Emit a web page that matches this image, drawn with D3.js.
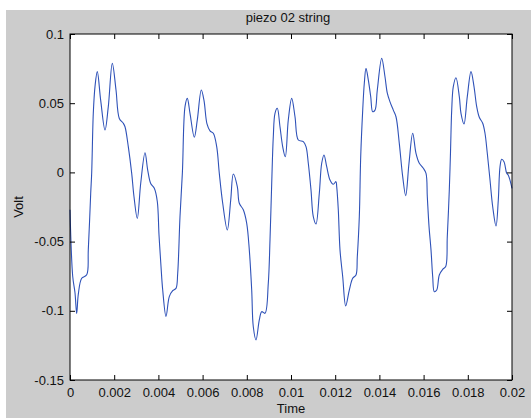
<!DOCTYPE html>
<html>
<head>
<meta charset="utf-8">
<script src="https://cdn.jsdelivr.net/npm/d3@7"></script>
<style>
  body { margin: 0; background: #fff; }
  text { font-family: "Liberation Sans", Arial, sans-serif; fill: #111; }
</style>
</head>
<body>
<svg id="chart"></svg>
<script>
// signal (time in s, voltage in V)
const time = [0, 0.000122, 0.000226, 0.000303, 0.000376, 0.000529, 0.000756, 0.000828, 0.000937, 0.000982,
  0.001054, 0.001131, 0.001235, 0.001389, 0.001584, 0.001733, 0.001914, 0.002082, 0.002231, 0.002412,
  0.002489, 0.002638, 0.002792, 0.002896, 0.003045, 0.003199, 0.003394, 0.003516, 0.003652, 0.003815,
  0.003950, 0.004027, 0.004118, 0.004195, 0.004344, 0.004493, 0.004647, 0.004796, 0.004873, 0.004977,
  0.005086, 0.005204, 0.005308, 0.005430, 0.005625, 0.005760, 0.005941, 0.006063, 0.006199, 0.006335,
  0.006484, 0.006638, 0.006756, 0.006910, 0.007118, 0.007272, 0.007390, 0.007571, 0.007661, 0.007842,
  0.007996, 0.008113, 0.008222, 0.008294, 0.008417, 0.008566, 0.008675, 0.008824, 0.008973, 0.009050,
  0.009127, 0.009199, 0.009276, 0.009380, 0.009502, 0.009624, 0.009742, 0.009878, 0.010032, 0.010181,
  0.010331, 0.010557, 0.010679, 0.010783, 0.010905, 0.011009, 0.011131, 0.011281, 0.011389, 0.011493,
  0.011616, 0.011765, 0.011914, 0.012036, 0.012068, 0.012140, 0.012217, 0.012340, 0.012475, 0.012638,
  0.012792, 0.012941, 0.013000, 0.013091, 0.013154, 0.013245, 0.013317, 0.013394, 0.013498, 0.013607,
  0.013697, 0.013801, 0.013905, 0.014104, 0.014253, 0.014358, 0.014480, 0.014629, 0.014751, 0.014900,
  0.015054, 0.015190, 0.015339, 0.015507, 0.015656, 0.015806, 0.015987, 0.016109, 0.016168, 0.016245,
  0.016335, 0.016412, 0.016484, 0.016593, 0.016711, 0.016865, 0.017000, 0.017072, 0.017163, 0.017218,
  0.017272, 0.017344, 0.017466, 0.017616, 0.017692, 0.017828, 0.017977, 0.018145, 0.018281, 0.018403,
  0.018520, 0.018674, 0.018778, 0.018882, 0.019005, 0.019127, 0.019276, 0.019380, 0.019457, 0.019534,
  0.019638, 0.019760, 0.019832, 0.02];
const volt = [-0.027, -0.075, -0.087, -0.102, -0.088, -0.0765, -0.074, -0.056, -0.015, 0.0,
  0.0427, 0.062, 0.0728, 0.052, 0.0306, 0.0475, 0.0788, 0.0595, 0.039, 0.0355,
  0.033, 0.0186, -0.0007, -0.0176, -0.0332, -0.008, 0.0142, 0.0017, -0.008, -0.0115,
  -0.021, -0.045, -0.068, -0.085, -0.104, -0.0898, -0.0855, -0.0838, -0.073, -0.032,
  0.0, 0.0475, 0.0535, 0.0427, 0.0254, 0.0379, 0.0595, 0.052, 0.035, 0.030,
  0.0283, 0.0186, -0.0007, -0.0223, -0.0416, -0.02, -0.0012, -0.0103, -0.0223, -0.027,
  -0.0368, -0.056, -0.085, -0.1115, -0.121, -0.1066, -0.1006, -0.1018, -0.080, -0.0488,
  -0.008, 0.0258, 0.0427, 0.0463, 0.033, 0.0186, 0.0113, 0.038, 0.0535, 0.0402,
  0.0234, 0.0222, 0.0186, 0.0066, -0.0127, -0.032, -0.0373, -0.0151, 0.0066, 0.0126,
  0.0041, -0.0055, -0.0086, -0.0067, -0.0103, -0.027, -0.056, -0.0754, -0.0965, -0.085,
  -0.0765, -0.0741, -0.061, -0.032, 0.0113, 0.045, 0.0644, 0.0752, 0.0668, 0.0547,
  0.0439, 0.045, 0.0595, 0.0824, 0.0691, 0.0572, 0.051, 0.045, 0.0402, 0.021,
  -0.0031, -0.0168, 0.0066, 0.0283, 0.0138, 0.0066, 0.003, -0.0007, -0.0176, -0.039,
  -0.056, -0.0754, -0.0862, -0.085, -0.0741, -0.07, -0.068, -0.0465, -0.0127, 0.015,
  0.045, 0.062, 0.0684, 0.0547, 0.0427, 0.035, 0.0547, 0.0728, 0.062, 0.0475,
  0.0398, 0.0355, 0.0283, 0.0138, -0.0055, -0.0248, -0.0387, -0.02, 0.0041, 0.0095,
  0.0077, -0.0007, -0.002, -0.0115];

const xTicks = [0, 0.002, 0.004, 0.006, 0.008, 0.01, 0.012, 0.014, 0.016, 0.018, 0.02];
const xTickLabels = ['0', '0.002', '0.004', '0.006', '0.008', '0.01', '0.012', '0.014', '0.016', '0.018', '0.02'];
const yTicks = [-0.15, -0.1, -0.05, 0, 0.05, 0.1];
const yTickLabels = ['-0.15', '-0.1', '-0.05', '0', '0.05', '0.1'];

const W = 531, H = 418;
const plotL = 70, plotR = 512, plotT = 34, plotB = 380;

const svg = d3.select('#chart').attr('width', W).attr('height', H);

// grey figure background
svg.append('rect').attr('x', 6).attr('y', 10).attr('width', W - 6).attr('height', H - 10).attr('fill', '#cccccc');
svg.append('rect').attr('x', plotL).attr('y', plotT).attr('width', plotR - plotL).attr('height', plotB - plotT).attr('fill', '#fff');

const x = d3.scaleLinear().domain([0, 0.02]).range([plotL, plotR]);
const y = d3.scaleLinear().domain([-0.15, 0.1]).range([plotB, plotT]);

const points = time.map((t, i) => [t, volt[i]]);
const line = d3.line().x(d => x(d[0])).y(d => y(d[1])).curve(d3.curveCatmullRom.alpha(0.5));

svg.append('path')
  .datum(points)
  .attr('d', line)
  .attr('fill', 'none')
  .attr('stroke', '#2f52b8')
  .attr('stroke-width', 1.1);

const fmtX = (d, i) => xTickLabels[i];
const fmtY = (d, i) => yTickLabels[i];

function styleAxis(g) {
  g.select('.domain').remove();
  g.selectAll('.tick line').attr('stroke', '#000');
  g.selectAll('.tick text').attr('font-size', 13).attr('fill', '#111');
}

// bottom & left with labels, top & right just ticks (inward)
svg.append('g').attr('transform', `translate(0,${plotB})`)
  .call(d3.axisBottom(x).tickValues(xTicks).tickFormat(fmtX).tickSizeInner(-5).tickSizeOuter(0).tickPadding(8))
  .call(styleAxis);
svg.append('g').attr('transform', `translate(0,${plotT})`)
  .call(d3.axisTop(x).tickValues(xTicks).tickFormat('').tickSizeInner(-5).tickSizeOuter(0))
  .call(styleAxis);
svg.append('g').attr('transform', `translate(${plotL},0)`)
  .call(d3.axisLeft(y).tickValues(yTicks).tickFormat(fmtY).tickSizeInner(-5).tickSizeOuter(0).tickPadding(6))
  .call(styleAxis);
svg.append('g').attr('transform', `translate(${plotR},0)`)
  .call(d3.axisRight(y).tickValues(yTicks).tickFormat('').tickSizeInner(-5).tickSizeOuter(0))
  .call(styleAxis);

svg.append('rect').attr('x', plotL).attr('y', plotT).attr('width', plotR - plotL).attr('height', plotB - plotT)
  .attr('fill', 'none').attr('stroke', '#000').attr('stroke-width', 1);

svg.append('text').attr('x', 288).attr('y', 22).attr('text-anchor', 'middle').attr('font-size', 13).text('piezo 02 string');
svg.append('text').attr('x', 291).attr('y', 413).attr('text-anchor', 'middle').attr('font-size', 13).text('Time');
svg.append('text').attr('transform', 'translate(23,207) rotate(-90)').attr('text-anchor', 'middle').attr('font-size', 13).text('Volt');
</script>
</body>
</html>
